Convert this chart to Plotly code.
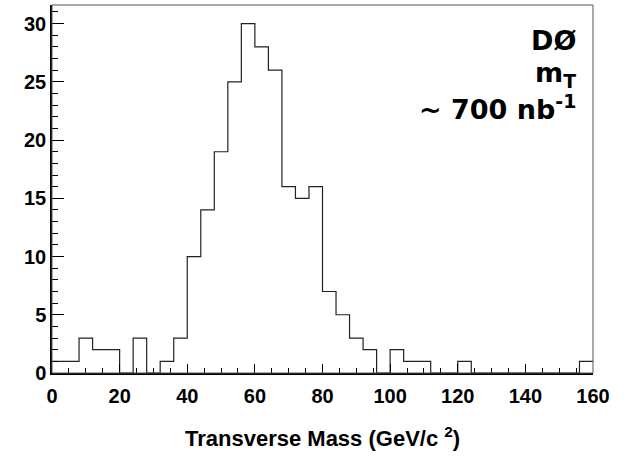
import plotly.graph_objects as go

# Histogram data: bin width 4 GeV, 0..160
bin_width = 4
x_min, x_max = 0, 160
counts = [1, 1, 3, 2, 2, 0, 3, 0, 1, 3,
          10, 14, 19, 25, 30, 28, 26, 16, 15, 16,
          7, 5, 3, 2, 0, 2, 1, 1, 0, 0,
          1, 0, 0, 0, 0, 0, 0, 0, 0, 1]

x_ticks = [0, 20, 40, 60, 80, 100, 120, 140, 160]
y_ticks = [0, 5, 10, 15, 20, 25, 30]
x_title = "Transverse Mass (GeV/c <sup>2</sup>)"
labels = ["DØ", "m<sub>T</sub>", "~ 700 nb<sup>-1</sup>"]

edges = [x_min + i * bin_width for i in range(len(counts) + 1)]
ys = counts + [counts[-1]]

fig = go.Figure()
fig.add_trace(go.Scatter(
    x=edges, y=ys, mode="lines", line_shape="hv",
    line=dict(color="#222222", width=1.2), showlegend=False, hoverinfo="skip"))

tick_font = dict(family="Liberation Sans, Arial, sans-serif", size=20, color="black", weight="bold")

fig.update_layout(
    width=629, height=464,
    margin=dict(l=52, r=36, t=5, b=91),
    paper_bgcolor="white", plot_bgcolor="white",
    xaxis=dict(range=[x_min, x_max], tickvals=x_ticks, ticks="inside", ticklen=9,
               tickwidth=1, tickcolor="black", showgrid=False, zeroline=False,
               showline=True, linecolor="black", linewidth=2,
               tickfont=tick_font, ticklabelstandoff=4,
               minor=dict(dtick=5, ticks="inside", ticklen=5, tickcolor="black", tickwidth=1)),
    yaxis=dict(range=[0, 31.6], tickvals=y_ticks, ticks="inside", ticklen=12,
               tickwidth=1, tickcolor="black", showgrid=False, zeroline=False,
               showline=True, linecolor="black", linewidth=1.5,
               tickfont=tick_font,
               minor=dict(dtick=1, ticks="inside", ticklen=6, tickcolor="black", tickwidth=1)),
    shapes=[dict(type="rect", xref="paper", yref="paper", x0=0, x1=1, y0=0, y1=1,
                 line=dict(color="#555555", width=1), fillcolor="rgba(0,0,0,0)", layer="above")],
)

ann_font = dict(family="DejaVu Sans, Verdana, sans-serif", size=27, color="black", weight="bold")
xr = (578 - 52) / 541
for lab, ypx in zip(labels, [40, 74, 107]):
    fig.add_annotation(xref="paper", yref="paper", x=xr, y=1 - (ypx - 5) / 368,
                       text=lab, showarrow=False,
                       xanchor="right", yanchor="middle", font=ann_font)

fig.add_annotation(xref="paper", yref="paper", x=0.5, y=-(437 - 373) / 368,
                   text=x_title, showarrow=False,
                   xanchor="center", yanchor="middle",
                   font=dict(family="Liberation Sans, Arial, sans-serif", size=22,
                             color="black", weight="bold"))

fig.write_html("out.html")
